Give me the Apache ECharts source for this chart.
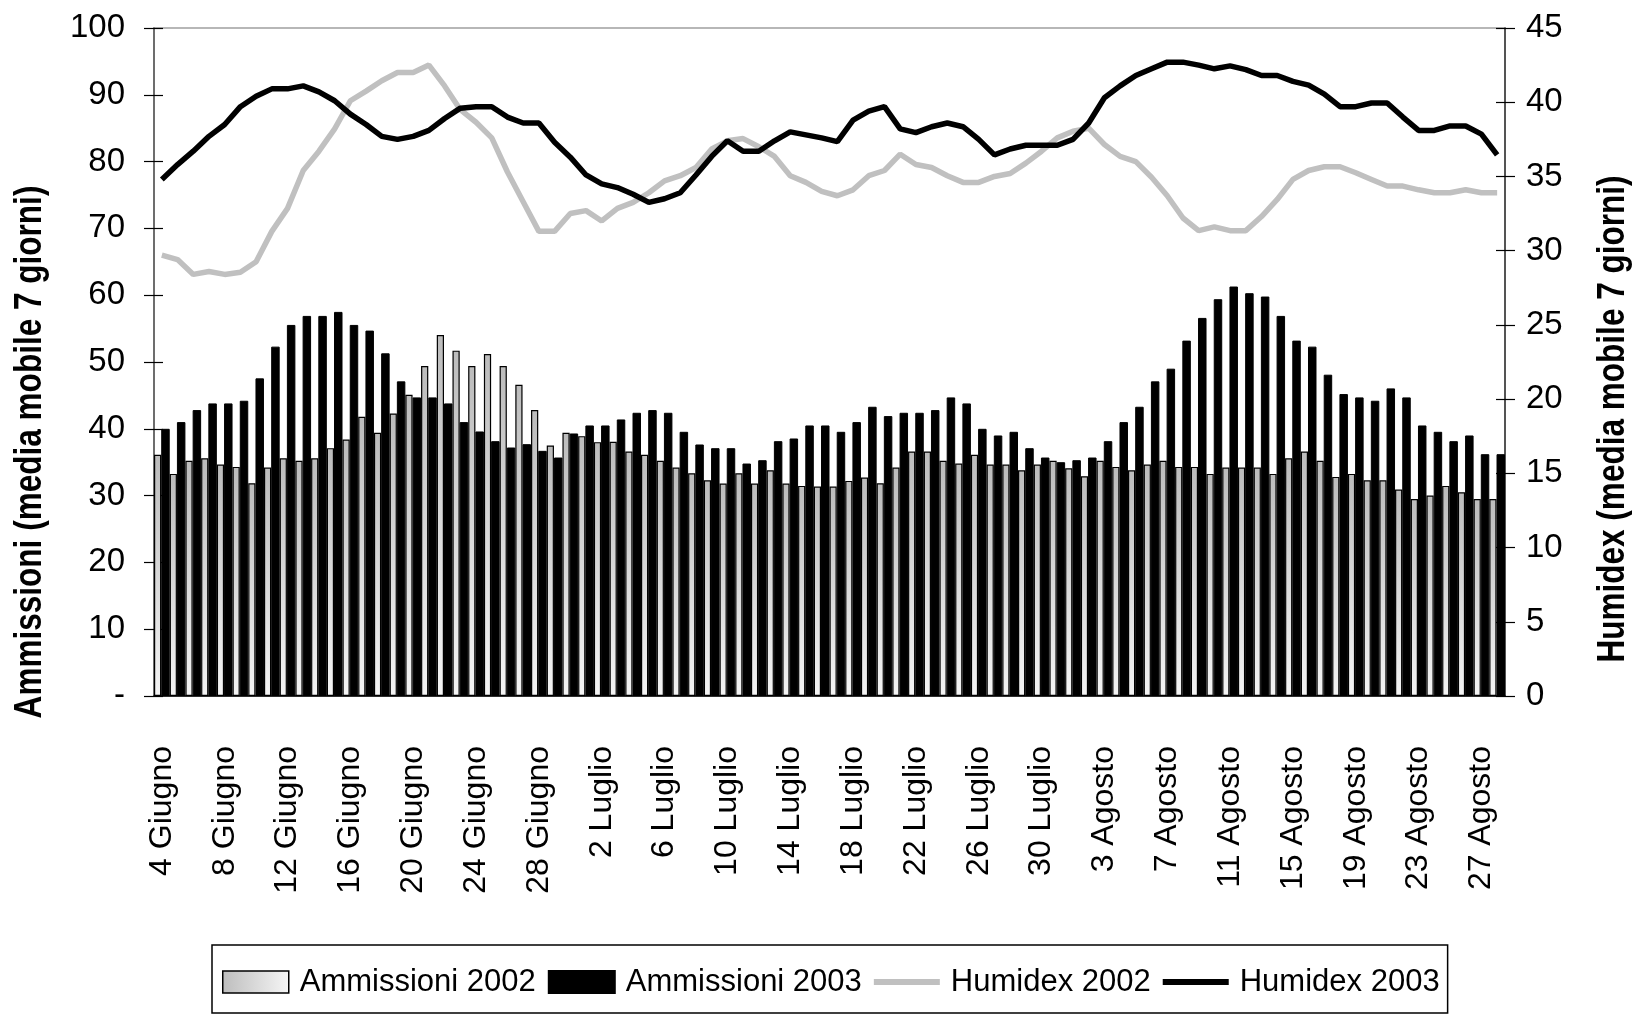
<!DOCTYPE html>
<html>
<head>
<meta charset="utf-8">
<script src="https://cdn.jsdelivr.net/npm/echarts@6/dist/echarts.min.js"></script>
<style>
html,body{margin:0;padding:0;background:#fff;}
#chart{width:1644px;height:1014px;}
</style>
</head>
<body>
<div id="chart"></div>
<script>
const categories = [
  '4 Giugno','5 Giugno','6 Giugno','7 Giugno','8 Giugno','9 Giugno','10 Giugno','11 Giugno','12 Giugno','13 Giugno',
  '14 Giugno','15 Giugno','16 Giugno','17 Giugno','18 Giugno','19 Giugno','20 Giugno','21 Giugno','22 Giugno','23 Giugno',
  '24 Giugno','25 Giugno','26 Giugno','27 Giugno','28 Giugno','29 Giugno','30 Giugno',
  '1 Luglio','2 Luglio','3 Luglio','4 Luglio','5 Luglio','6 Luglio','7 Luglio','8 Luglio','9 Luglio','10 Luglio',
  '11 Luglio','12 Luglio','13 Luglio','14 Luglio','15 Luglio','16 Luglio','17 Luglio','18 Luglio','19 Luglio','20 Luglio',
  '21 Luglio','22 Luglio','23 Luglio','24 Luglio','25 Luglio','26 Luglio','27 Luglio','28 Luglio','29 Luglio','30 Luglio','31 Luglio',
  '1 Agosto','2 Agosto','3 Agosto','4 Agosto','5 Agosto','6 Agosto','7 Agosto','8 Agosto','9 Agosto','10 Agosto',
  '11 Agosto','12 Agosto','13 Agosto','14 Agosto','15 Agosto','16 Agosto','17 Agosto','18 Agosto','19 Agosto','20 Agosto',
  '21 Agosto','22 Agosto','23 Agosto','24 Agosto','25 Agosto','26 Agosto','27 Agosto','28 Agosto'
];

const ammissioni2002 = [
  36.1, 33.25, 35.2, 35.6, 34.65, 34.3, 31.85, 34.2, 35.6, 35.2,
  35.6, 37.1, 38.4, 41.8, 39.4, 42.3, 45.1, 49.4, 54.05, 51.7,
  49.4, 51.2, 49.4, 46.6, 42.8, 37.5, 39.4, 38.9, 38.0, 38.05,
  36.6, 36.1, 35.2, 34.2, 33.35, 32.3, 31.8, 33.35, 31.8, 33.8,
  31.8, 31.45, 31.35, 31.35, 32.2, 32.7, 31.85, 34.2, 36.6, 36.6,
  35.2, 34.8, 36.1, 34.65, 34.65, 33.8, 34.65, 35.2, 34.1, 32.9,
  35.2, 34.3, 33.8, 34.65, 35.2, 34.3, 34.3, 33.25, 34.2, 34.2,
  34.2, 33.25, 35.6, 36.6, 35.2, 32.8, 33.25, 32.3, 32.3, 30.9,
  29.5, 30.0, 31.45, 30.5, 29.5, 29.5
];

const ammissioni2003 = [
  40.0, 41.0, 42.8, 43.8, 43.8, 44.2, 47.55, 52.3, 55.55, 56.9,
  56.9, 57.5, 55.55, 54.7, 51.3, 47.1, 44.7, 44.7, 43.8, 41.0,
  39.6, 38.15, 37.2, 37.7, 36.7, 35.7, 39.3, 40.5, 40.5, 41.4,
  42.4, 42.8, 42.4, 39.55, 37.65, 37.1, 37.1, 34.8, 35.3, 38.15,
  38.55, 40.5, 40.5, 39.55, 41.0, 43.3, 41.9, 42.4, 42.4, 42.8,
  44.7, 43.8, 40.0, 39.0, 39.55, 37.1, 35.7, 35.0, 35.3, 35.7,
  38.15, 41.0, 43.3, 47.1, 49.0, 53.2, 56.6, 59.4, 61.3, 60.3,
  59.8, 56.9, 53.2, 52.3, 48.1, 45.2, 44.7, 44.2, 46.05, 44.7,
  40.5, 39.55, 38.15, 39.0, 36.2, 36.2
];

const humidex2002 = [
  29.7, 29.4, 28.4, 28.6, 28.4, 28.55, 29.25, 31.3, 32.85, 35.4,
  36.7, 38.2, 40.1, 40.75, 41.45, 42.0, 42.0, 42.5, 41.1, 39.5,
  38.65, 37.6, 35.3, 33.3, 31.3, 31.3, 32.5, 32.7, 32.0, 32.85,
  33.25, 33.9, 34.7, 35.05, 35.6, 36.85, 37.4, 37.55, 37.0, 36.35,
  35.05, 34.6, 34.0, 33.7, 34.1, 35.05, 35.4, 36.5, 35.8, 35.6,
  35.05, 34.6, 34.6, 35.0, 35.2, 35.9, 36.7, 37.6, 38.05, 38.25,
  37.15, 36.35, 36.0, 34.95, 33.7, 32.2, 31.35, 31.6, 31.35, 31.35,
  32.3, 33.45, 34.8, 35.4, 35.65, 35.65, 35.25, 34.8, 34.35, 34.35,
  34.1, 33.9, 33.9, 34.1, 33.9, 33.9
];

const humidex2003 = [
  34.8, 35.8, 36.7, 37.7, 38.5, 39.7, 40.4, 40.9, 40.9, 41.1,
  40.7, 40.1, 39.2, 38.5, 37.7, 37.5, 37.7, 38.1, 38.9, 39.6,
  39.7, 39.7, 39.0, 38.6, 38.6, 37.3, 36.3, 35.1, 34.5, 34.25,
  33.8, 33.25, 33.5, 33.9, 35.1, 36.35, 37.4, 36.7, 36.7, 37.4,
  38.0, 37.8, 37.6, 37.35, 38.8, 39.4, 39.7, 38.2, 37.95, 38.35,
  38.6, 38.35, 37.5, 36.45, 36.85, 37.1, 37.1, 37.1, 37.5, 38.6,
  40.3, 41.1, 41.8, 42.25, 42.7, 42.7, 42.5, 42.25, 42.45, 42.2,
  41.8, 41.8, 41.4, 41.15, 40.55, 39.7, 39.7, 39.95, 39.95, 39.0,
  38.1, 38.1, 38.4, 38.4, 37.85, 36.45
];

const seriesNames = ['Ammissioni 2002', 'Ammissioni 2003', 'Humidex 2002', 'Humidex 2003'];
const leftTitle = 'Ammissioni (media mobile 7 giorni)';
const rightTitle = 'Humidex (media mobile 7 giorni)';

function hasFont(name) {
  const c = document.createElement('canvas').getContext('2d');
  const t = 'Ammissioni 2002 mmmwwwiii';
  c.font = '40px monospace';
  const a = c.measureText(t).width;
  c.font = "40px '" + name + "', monospace";
  const b = c.measureText(t).width;
  return Math.abs(a - b) > 0.5;
}
const narrow = hasFont('Liberation Sans Narrow');
const FF = narrow ? "'Liberation Sans Narrow', 'Arial Narrow', sans-serif" : "'Liberation Sans', Arial, sans-serif";
const K = narrow ? 1 : 0.84;
const TK = narrow ? 1 : 0.83;

const grayGrad = new echarts.graphic.LinearGradient(0, 0, 0, 1, [
  { offset: 0, color: '#bcbcbc' }, { offset: 1, color: '#f4f4f4' }
]);
const grayGradLegend = new echarts.graphic.LinearGradient(0, 0, 1, 0, [
  { offset: 0, color: '#bdbdbd' }, { offset: 1, color: '#f6f6f6' }
]);
// thin horizontal stroke icon for the line series (bbox 66 x 22)
const lineIcon = 'path://M0,0h0.001v0.001h-0.001z M0,8h66v6h-66z M65.999,21.999h0.001v0.001h-0.001z';

const chart = echarts.init(document.getElementById('chart'), null, { renderer: 'canvas' });

const tickLabel = { fontFamily: FF, fontSize: Math.round(39 * K), color: '#000' };

chart.setOption({
  animation: false,
  backgroundColor: '#fff',
  grid: { left: 154, right: 139, top: 28, bottom: 318, show: true, borderColor: '#a0a0a0', borderWidth: 1.5 },
  legend: {
    data: [
      { name: seriesNames[0], icon: 'rect', itemStyle: { color: grayGradLegend, borderColor: '#000', borderWidth: 1.5 } },
      { name: seriesNames[1], icon: 'rect' },
      { name: seriesNames[2], icon: lineIcon, itemStyle: { color: '#c0c0c0', borderWidth: 0 } },
      { name: seriesNames[3], icon: lineIcon, itemStyle: { color: '#000', borderWidth: 0 } }
    ],
    left: 212, top: 945,
    orient: 'horizontal',
    itemWidth: 66, itemHeight: 22, itemGap: 12,
    padding: [17, 8, 11, 10],
    borderColor: '#000', borderWidth: 1.5,
    textStyle: { fontFamily: FF, fontSize: Math.round(39 * (narrow ? 1 : 0.8)), color: '#000', lineHeight: 40, padding: [0, 0, 0, 6] }
  },
  xAxis: {
    type: 'category',
    data: categories,
    boundaryGap: true,
    axisLine: { lineStyle: { color: '#000', width: 1.5 } },
    axisTick: { interval: 0, length: 12, lineStyle: { color: '#000', width: 1.2 } },
    axisLabel: { interval: 3, rotate: 90, margin: 50, fontFamily: FF, fontSize: Math.round(38 * K), color: '#000' },
    splitLine: { show: false }
  },
  yAxis: [
    {
      type: 'value', min: 0, max: 100, interval: 10, position: 'left',
      axisLine: { show: true, lineStyle: { color: '#555', width: 1.5 } },
      axisTick: { show: true, length: 10, lineStyle: { color: '#000', width: 1.2 } },
      axisLabel: Object.assign({ margin: 29, formatter: v => (v === 0 ? '-' : String(v)) }, tickLabel),
      splitLine: { show: false }
    },
    {
      type: 'value', min: 0, max: 45, interval: 5, position: 'right',
      axisLine: { show: true, lineStyle: { color: '#333', width: 1.5 } },
      axisTick: { show: true, length: 10, lineStyle: { color: '#000', width: 1.2 } },
      axisLabel: Object.assign({ margin: 21 }, tickLabel),
      splitLine: { show: false }
    },
    {
      type: 'value', min: 0, max: 100, interval: 10, position: 'left',
      axisLine: { show: false },
      axisTick: { show: true, inside: true, length: 9, lineStyle: { color: '#000', width: 1.2 } },
      axisLabel: { show: false }, splitLine: { show: false }
    },
    {
      type: 'value', min: 0, max: 45, interval: 5, position: 'right',
      axisLine: { show: false },
      axisTick: { show: true, inside: true, length: 9, lineStyle: { color: '#000', width: 1.2 } },
      axisLabel: { show: false }, splitLine: { show: false }
    }
  ],
  series: [
    {
      name: seriesNames[0], type: 'bar', yAxisIndex: 0, data: ammissioni2002,
      barWidth: '46%', barGap: '0%', barCategoryGap: '0%',
      itemStyle: { color: grayGrad, borderColor: '#000', borderWidth: 1.2 }
    },
    {
      name: seriesNames[1], type: 'bar', yAxisIndex: 0, data: ammissioni2003,
      barWidth: '54%', barGap: '0%', barCategoryGap: '0%',
      itemStyle: { color: '#000', borderColor: '#000', borderWidth: 1 }
    },
    {
      name: seriesNames[2], type: 'line', yAxisIndex: 1, data: humidex2002,
      symbol: 'none', lineStyle: { color: '#c0c0c0', width: 5.5 }, itemStyle: { color: '#c0c0c0' }
    },
    {
      name: seriesNames[3], type: 'line', yAxisIndex: 1, data: humidex2003,
      symbol: 'none', lineStyle: { color: '#000', width: 5.5 }, itemStyle: { color: '#000' }
    }
  ],
  graphic: [
    {
      type: 'text', x: 31, y: 452, rotation: Math.PI / 2,
      style: { text: leftTitle, fontFamily: FF, fontWeight: 'bold', fontSize: 38, fill: '#000', align: 'center', verticalAlign: 'middle' },
      scaleX: TK
    },
    {
      type: 'text', x: 1614, y: 419, rotation: Math.PI / 2,
      style: { text: rightTitle, fontFamily: FF, fontWeight: 'bold', fontSize: 38, fill: '#000', align: 'center', verticalAlign: 'middle' },
      scaleX: TK
    }
  ]
});
</script>
</body>
</html>
